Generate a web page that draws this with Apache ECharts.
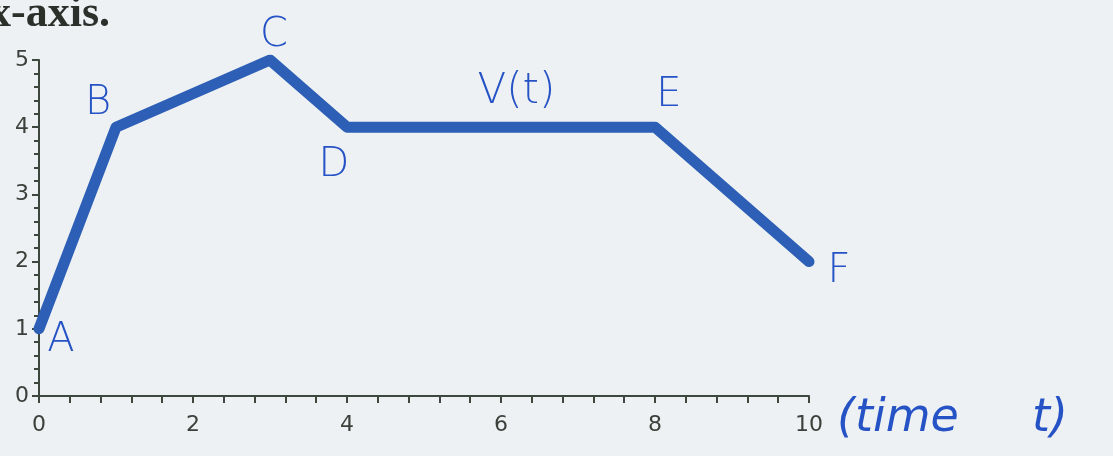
<!DOCTYPE html>
<html>
<head>
<meta charset="utf-8">
<script src="https://cdn.jsdelivr.net/npm/echarts@6/dist/echarts.min.js"></script>
<style>
  html, body { margin: 0; padding: 0; background: #eef1f4; }
  #chart { width: 1113px; height: 456px; }
</style>
</head>
<body>
<div id="chart"></div>
<script>
// points of v(t)
var timeValues = [0, 1, 3, 4, 8, 10];
var speedValues = [1, 4, 5, 4, 4, 2];
var pointNames = ["A", "B", "C", "D", "E", "F"];
var xTicks = [0, 2, 4, 6, 8, 10];
var yTicks = [0, 1, 2, 3, 4, 5];

// where each handwritten letter sits around its point
var letterOffset = {
  A: [22, 12], B: [-18, -24], C: [4, -24],
  D: [-13, 38], E: [14, -32], F: [30, 10]
};

var ink = "#2c5fb5";
var pen = "#2552c4";
var axisColor = "#3d473d";

var chart = echarts.init(document.getElementById("chart"));

var lineData = [];
for (var i = 0; i < timeValues.length; i++) {
  var n = pointNames[i];
  lineData.push({
    value: [timeValues[i], speedValues[i]],
    name: n,
    label: {
      show: true,
      formatter: n,
      position: "inside",
      offset: letterOffset[n]
    }
  });
}

var axisLabelStyle = {
  color: "#3a403a",
  fontFamily: "DejaVu Sans",
  fontSize: 22
};

chart.setOption({
  backgroundColor: "#eef1f4",
  animation: false,
  grid: { left: 39, right: 304, top: 60, bottom: 60 },
  graphic: [{
    type: "text",
    left: -11,
    top: -7,
    style: {
      text: "x-axis.",
      font: "bold 44px 'Liberation Serif'",
      fill: "#2b302b"
    }
  }],
  xAxis: {
    type: "value",
    min: xTicks[0],
    max: xTicks[xTicks.length - 1],
    interval: 2,
    name: "(time     t)",
    nameLocation: "end",
    nameGap: 28,
    nameTextStyle: {
      color: pen,
      fontSize: 46,
      fontStyle: "italic",
      fontFamily: "DejaVu Sans",
      fontWeight: "lighter",
      verticalAlign: "top",
      padding: [0, 0, 0, 0]
    },
    axisLine: { lineStyle: { color: axisColor, width: 2 } },
    axisTick: { length: 7, lineStyle: { color: axisColor, width: 2 } },
    minorTick: { show: true, splitNumber: 5, length: 7, lineStyle: { color: axisColor, width: 2 } },
    splitLine: { show: false },
    axisLabel: Object.assign({ margin: 18 }, axisLabelStyle)
  },
  yAxis: {
    type: "value",
    min: yTicks[0],
    max: yTicks[yTicks.length - 1],
    interval: 1,
    axisLine: { show: true, lineStyle: { color: axisColor, width: 2 } },
    axisTick: { show: true, length: 7, lineStyle: { color: axisColor, width: 2 } },
    minorTick: { show: true, splitNumber: 5, length: 5, lineStyle: { color: axisColor, width: 2 } },
    splitLine: { show: false },
    axisLabel: Object.assign({ margin: 10 }, axisLabelStyle)
  },
  series: [{
    type: "line",
    data: lineData,
    symbol: "circle",
    symbolSize: 1,
    itemStyle: { color: ink },
    lineStyle: { color: ink, width: 11, cap: "round", join: "round" },
    label: {
      color: pen,
      fontSize: 40,
      fontFamily: "DejaVu Sans",
      fontWeight: "lighter"
    },
    markPoint: {
      symbol: "circle",
      symbolSize: 0,
      data: [{
        coord: [6.2, 4.52],
        label: {
          show: true,
          formatter: "V(t)",
          color: pen,
          fontSize: 42,
          fontFamily: "DejaVu Sans",
          fontWeight: "lighter"
        }
      }]
    }
  }]
});
</script>
</body>
</html>
